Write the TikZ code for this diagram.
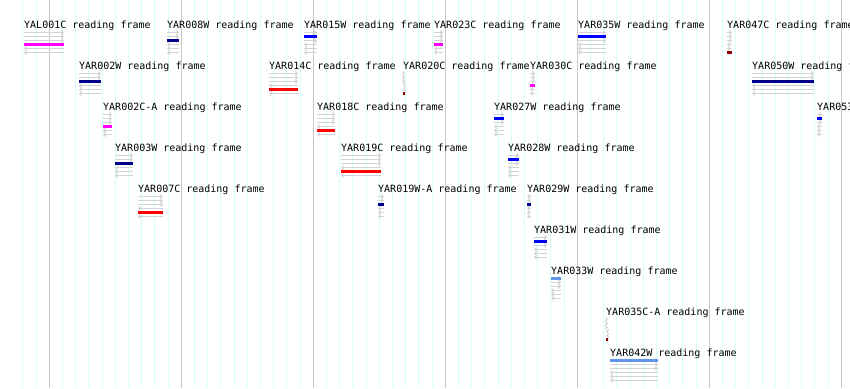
\documentclass[tikz,border=0pt]{standalone}
\usepackage{fontspec}
\setmonofont{DejaVu Sans Mono}
\usepackage{xcolor}
\usepackage{tikz}
\usetikzlibrary{arrows.meta}

\definecolor{gridcyan}{RGB}{212,255,255}
\definecolor{gridgray}{RGB}{200,200,200}
\definecolor{framegray}{RGB}{211,211,211}
\definecolor{orfnavy}{RGB}{0,0,139}
\definecolor{orfblue}{RGB}{0,0,255}
\definecolor{orfred}{RGB}{255,0,0}
\definecolor{orfmagenta}{RGB}{255,0,255}
\definecolor{orfmaroon}{RGB}{139,0,0}
\definecolor{orfcorn}{RGB}{100,149,237}

\begin{document}
\begin{tikzpicture}[
  x=1pt, y=-1pt,
  orflabel/.style={anchor=base west, inner sep=0pt, font=\ttfamily\fontsize{10}{12}\selectfont},
  fwd/.style={framegray, line width=1pt, -{Straight Barb[length=2pt,width=4pt]}},
  rev/.style={framegray, line width=1pt, {Straight Barb[length=2pt,width=4pt]}-},
  orfbar/.style={line width=3pt}
]
  \useasboundingbox (0,0) rectangle (850,388);
  \fill[white] (0,0) rectangle (850,388);
  \clip (0,0) rectangle (850,388);

  % background grid
  \foreach \k in {0,...,62}
    \draw[gridcyan, line width=1pt] ({22.9+13.2*\k},0) -- ({22.9+13.2*\k},388);
  \foreach \j in {0,...,6}
    \draw[gridgray, line width=1pt] ({49.3+132*\j},0) -- ({49.3+132*\j},388);

  % reading frames: name / start / end / lane / frame of bar / colour
  \foreach \name/\xa/\xb/\lane/\fr/\col [count=\i] in {
      YAL001C/24/64/1/4/orfmagenta,
      YAR008W/167/179/1/3/orfnavy,
      YAR015W/304/317/1/2/orfblue,
      YAR023C/434/443/1/4/orfmagenta,
      YAR035W/578/606/1/2/orfblue,
      YAR047C/727/732/1/6/orfmaroon,
      YAR002W/79/101/2/3/orfnavy,
      YAR014C/269/298/2/5/orfred,
      YAR020C/403/405/2/6/orfmaroon,
      YAR030C/530/535/2/4/orfmagenta,
      YAR050W/752/814/2/3/orfnavy,
      YAR002C-A/103/112/3/4/orfmagenta,
      YAR018C/317/335/3/5/orfred,
      YAR027W/494/504/3/2/orfblue,
      YAR053W/817/822/3/2/orfblue,
      YAR003W/115/133/4/3/orfnavy,
      YAR019C/341/381/4/5/orfred,
      YAR028W/508/519/4/2/orfblue,
      YAR007C/138/163/5/5/orfred,
      YAR019W-A/378/384/5/3/orfnavy,
      YAR029W/527/531/5/3/orfnavy,
      YAR031W/534/547/6/2/orfblue,
      YAR033W/551/561/7/1/orfcorn,
      YAR035C-A/606/608/8/6/orfmaroon,
      YAR042W/610/658/9/1/orfcorn}
  {
    \pgfmathsetmacro{\ytop}{32.5+41*(\lane-1)}
    \node[orflabel] (orf\i) at (\xa,\ytop-4) {\name\ reading frame};
    \foreach \k in {0,1,2}
      \draw[fwd] (\xa,{\ytop+4*\k}) -- (\xb,{\ytop+4*\k});
    \foreach \k in {3,4,5}
      \draw[rev] (\xa,{\ytop+4*\k}) -- (\xb,{\ytop+4*\k});
    \draw[orfbar, \col] (\xa,{\ytop+4*(\fr-1)}) -- (\xb,{\ytop+4*(\fr-1)});
  }
\end{tikzpicture}
\end{document}
